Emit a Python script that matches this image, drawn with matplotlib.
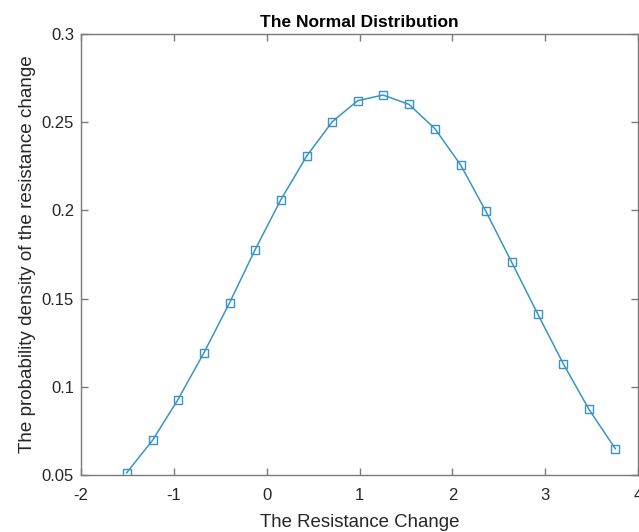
import matplotlib
matplotlib.use('Agg')
import matplotlib.pyplot as plt

# Values
resistance_change = [-1.508, -1.228, -0.959, -0.679, -0.399, -0.126, 0.151, 0.431,
                     0.707, 0.980, 1.253, 1.533, 1.813, 2.090, 2.359, 2.639,
                     2.919, 3.195, 3.472, 3.756]
density = [0.0513, 0.0698, 0.0925, 0.1190, 0.1477, 0.1776, 0.2059, 0.2308,
           0.2503, 0.2622, 0.2654, 0.2601, 0.2463, 0.2257, 0.1997, 0.1707,
           0.1414, 0.1131, 0.0872, 0.0649]

x_ticks = [-2, -1, 0, 1, 2, 3, 4]
y_ticks = [0.05, 0.1, 0.15, 0.2, 0.25, 0.3]
y_tick_labels = ['0.05', '0.1', '0.15', '0.2', '0.25', '0.3']

plt.rcParams['font.family'] = ['Liberation Sans', 'DejaVu Sans']
plt.rcParams['axes.unicode_minus'] = False
text_color = '#262626'
axis_color = '#7a7a7a'

fig = plt.figure(figsize=(6.39, 5.32), dpi=100)
ax = fig.add_axes([0.1268, 0.1071, 0.8716, 0.8290])

ax.plot(resistance_change, density, color='#3a93c8', linewidth=1.1,
        marker='s', markersize=5.5, markerfacecolor='none',
        markeredgecolor='#3a93c8', markeredgewidth=1.0)

ax.set_xlim(-2, 4)
ax.set_ylim(0.05, 0.3)
ax.set_xticks(x_ticks)
ax.set_yticks(y_ticks)
ax.set_yticklabels(y_tick_labels)

for spine in ax.spines.values():
    spine.set_color(axis_color)
    spine.set_linewidth(1.0)
ax.tick_params(direction='in', length=5, width=1.0, color=axis_color,
               labelsize=12, labelcolor=text_color, top=True, right=True)
ax.tick_params(axis='x', pad=9)
ax.tick_params(axis='y', pad=5)

ax.set_title('The Normal Distribution', fontsize=12.5, fontweight='bold',
             color='black', pad=5)
ax.set_xlabel('The Resistance Change', fontsize=13.4, color=text_color, labelpad=8)
ax.set_ylabel('The probability density of the resistance change', fontsize=13.6,
              color=text_color, labelpad=4)

fig.savefig('out.png', dpi=100)
